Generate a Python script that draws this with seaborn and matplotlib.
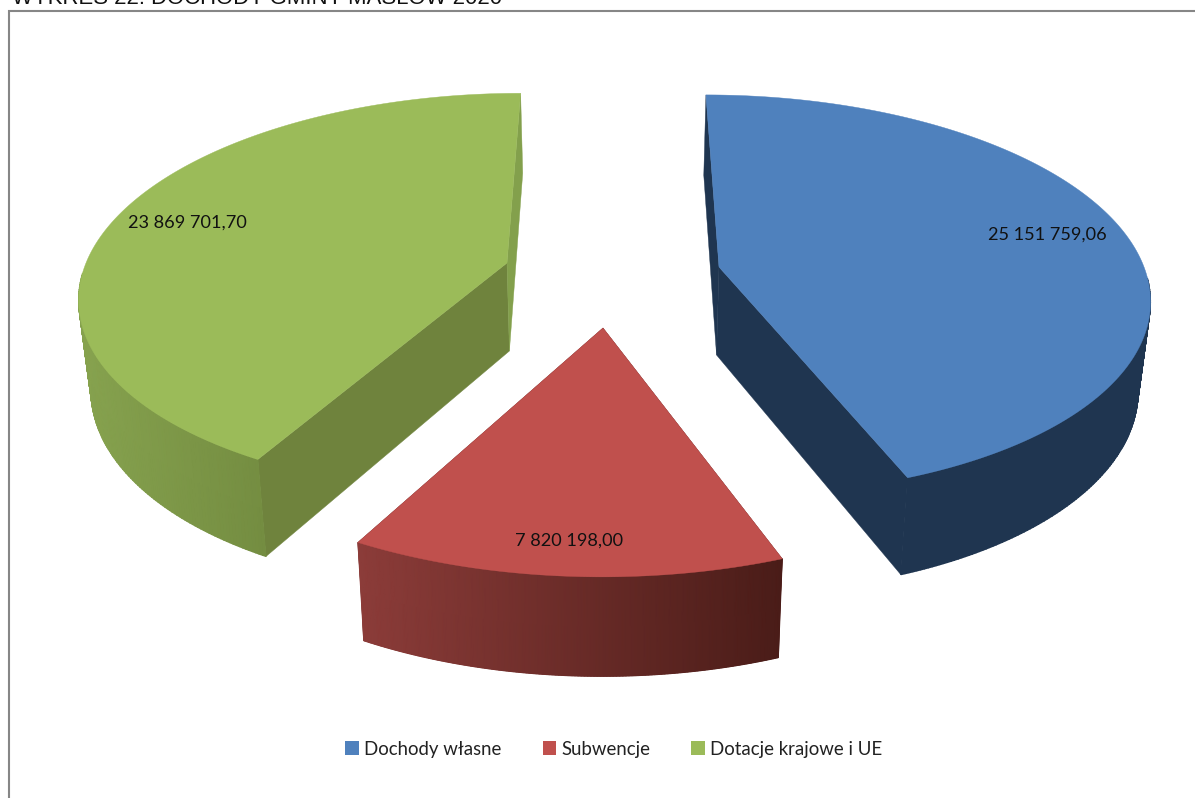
import numpy as np
import matplotlib
matplotlib.use("Agg")
import matplotlib.pyplot as plt
from matplotlib.patches import Patch
from matplotlib.colors import LinearSegmentedColormap
import seaborn as sns

# ---- data ----
title = "WYKRES 22. DOCHODY GMINY MASŁÓW 2020"
categories = ["Dochody własne", "Subwencje", "Dotacje krajowe i UE"]
values = [25151759.06, 7820198.00, 23869701.70]

# ---- style ----
top_colors = ["#4F81BD", "#C0504D", "#9BBB59"]
wall_left = ["#1F3550", "#8C3C39", "#87A34F"]
wall_right = ["#1F3550", "#4A1C18", "#748D41"]
start_face = ["#1F3550", "#5F2523", "#6F833D"]
end_face = ["#1F3550", "#5F2523", "#83A04C"]

# ---- layout of the perspective pie (pixels) ----
W, H = 1195, 798
view_x = 612
apex_x = [719, 603, 507]
apex_y = [267, 328, 263]
radius_x = [425, 453, 421]
radius_y = [196, 219, 195]
persp = [0.139, 0.12, 0.149]
depth = [88, 91, 88]
shrink = 0.977
label_pos = [(1047, 235), (569, 541), (187, 223)]

sns.set_theme(style="white", font="Lato")
plt.rcParams["font.family"] = ["Lato", "DejaVu Sans"]

fig = plt.figure(figsize=(W / 100, H / 100), dpi=100)
ax = fig.add_axes([0, 0, 1, 1])
ax.set_xlim(0, W)
ax.set_ylim(H, 0)
ax.axis("off")

# frame
ax.plot([9, 9, W + 5], [H + 5, 11, 11], color="#868686", lw=1.5, solid_joinstyle="miter", zorder=1)
ax.text(12, 4, title, family="Liberation Sans", fontsize=15.9, color="#111111",
        va="baseline", ha="left", clip_on=False)

total = sum(values)
edges = np.concatenate([[0], np.cumsum(values)]) / total * 360


def project(i, theta):
    t = np.radians(theta)
    u, v = np.sin(t), -np.cos(t)
    w = 1 - persp[i] * v
    x = view_x + ((apex_x[i] - view_x) + radius_x[i] * u) / w
    y = apex_y[i] + radius_y[i] * v / w
    return x, y, w, v


def lower(i, x, y, w):
    return view_x + (x - view_x) * shrink, y + depth[i] / w ** 0.7


def fmt(v):
    s = f"{v:,.2f}"
    return s.replace(",", " ").replace(".", ",")


for i in range(len(values)):
    th = np.linspace(edges[i], edges[i + 1], 300)
    x, y, w, v = project(i, th)
    xb, yb = lower(i, x, y, w)
    ax0, ay0 = float(apex_x[i]), float(apex_y[i])
    axb, ayb = lower(i, ax0, ay0, 1.0)

    # flat inner faces
    ax.fill([ax0, x[0], xb[0], axb], [ay0, y[0], yb[0], ayb], color=start_face[i], lw=0.3, zorder=2)
    ax.fill([ax0, x[-1], xb[-1], axb], [ay0, y[-1], yb[-1], ayb], color=end_face[i], lw=0.3, zorder=2)

    # outer wall with a left-to-right shade
    front = np.where(v > 0.05)[0]
    cmap = LinearSegmentedColormap.from_list(f"wall{i}", [wall_left[i], wall_right[i]])
    gx = np.vstack([x[front], xb[front]])
    gy = np.vstack([y[front], yb[front]])
    ax.pcolormesh(gx, gy, gx, shading="gouraud", cmap=cmap, zorder=3,
                  vmin=gx.min(), vmax=gx.max())
    ax.set_xlim(0, W)
    ax.set_ylim(H, 0)

    # top surface
    ax.fill(np.r_[ax0, x], np.r_[ay0, y], color=top_colors[i], lw=0.3, zorder=4)

    ax.text(label_pos[i][0], label_pos[i][1], fmt(values[i]), ha="center", va="center",
            fontsize=13.1, color="#111111", zorder=5)

handles = [Patch(facecolor=c, edgecolor="none") for c in top_colors]
ax.legend(handles, categories, loc="center", bbox_to_anchor=(614 / W, 1 - 749 / H), ncol=3,
          frameon=False, fontsize=13.4, handlelength=0.72, handleheight=0.72,
          handletextpad=0.3, columnspacing=2.2, labelcolor="#222222")

fig.savefig("out.png", dpi=100)
